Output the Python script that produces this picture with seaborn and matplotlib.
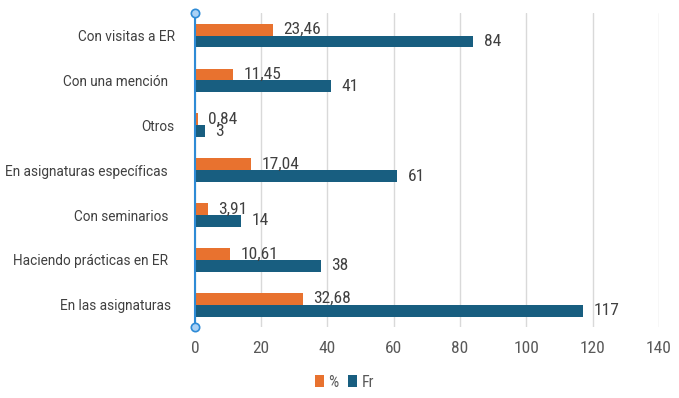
import matplotlib
matplotlib.use("Agg")
import matplotlib.pyplot as plt
import seaborn as sns
import pandas as pd

categories = ["Con visitas a ER", "Con una mención  ", "Otros", "En asignaturas específicas  ",
              "Con seminarios  ", "Haciendo prácticas en ER  ", "En las asignaturas "]
pct = [23.46, 11.45, 0.84, 17.04, 3.91, 10.61, 32.68]
fr = [84, 41, 3, 61, 14, 38, 117]
series = ["%", "Fr"]
xticks = [0, 20, 40, 60, 80, 100, 120, 140]

colors = ["#E8722F", "#185E80"]
num_font = ["Roboto Condensed", "DejaVu Sans Condensed", "Liberation Sans Narrow", "Roboto"]
cat_font = ["Roboto", "DejaVu Sans"]

df = pd.DataFrame({
    "cat": categories * 2,
    "serie": [series[0]] * len(categories) + [series[1]] * len(categories),
    "val": pct + fr,
})

sns.set_style("white")
plt.rcParams["font.family"] = num_font

fig = plt.figure(figsize=(6.79, 3.98), dpi=100)
ax = fig.add_axes([0.287, 0.178, 0.6835, 0.789])

sns.barplot(data=df, y="cat", x="val", hue="serie", order=categories, hue_order=series,
            palette=colors, orient="h", width=0.53, gap=0, ax=ax, legend=True,
            saturation=1, edgecolor="none")

ax.set_xlim(0, 140)
ax.set_xticks(xticks)
ax.set_ylim(6.5, -0.5)
ax.set_xlabel("")
ax.set_ylabel("")
ax.grid(axis="x", color="#D9D9D9", linewidth=1)
ax.set_axisbelow(True)
for s in ["top", "right", "bottom"]:
    ax.spines[s].set_visible(False)
ax.spines["left"].set_color("#2E8BD6")
ax.spines["left"].set_linewidth(1.5)

ax.tick_params(axis="x", length=0, pad=10, labelsize=12.5, labelcolor="#595959")
ax.tick_params(axis="y", length=0, pad=14.5, labelcolor="#404040")
for lab in ax.get_yticklabels():
    lab.set_fontfamily(cat_font)
    lab.set_fontsize(9.8)

for cont, vals in zip(ax.containers, [pct, fr]):
    labels = [("%.2f" % v).replace(".", ",") if isinstance(v, float) else str(v) for v in vals]
    ax.bar_label(cont, labels=labels, padding=7.5, fontsize=12.5, color="#404040")

ax.plot([0, 0], [0, 1], transform=ax.transAxes, linestyle="none", marker="o",
        markersize=6, markerfacecolor="#A9D1F5", markeredgecolor="#2E8BD6",
        markeredgewidth=1.2, clip_on=False, zorder=5)

leg = ax.legend(loc="center", bbox_to_anchor=(0.323, -0.175), ncol=2, frameon=False,
                handlelength=0.55, handleheight=0.7, handletextpad=0.3, columnspacing=0.6,
                fontsize=11.5, labelcolor="#595959")

fig.savefig("out.png", dpi=100)
